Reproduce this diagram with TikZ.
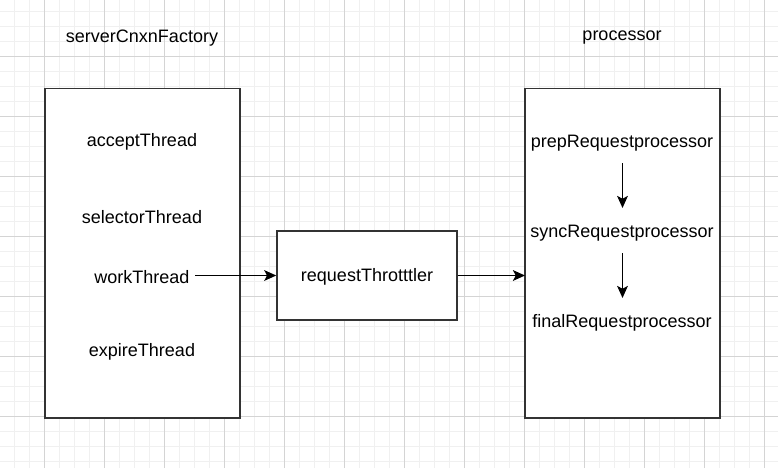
\documentclass[tikz,border=0pt]{standalone}
\usepackage{fontspec}
\setmainfont{Liberation Sans}
\usetikzlibrary{arrows.meta}
\definecolor{minorgrid}{HTML}{F0F0F0}
\definecolor{majorgrid}{HTML}{D4D4D4}
\definecolor{boxline}{HTML}{333333}
\tikzset{
  px/.style={x=0.75pt,y=-0.75pt},
  boxstyle/.style={draw=boxline,line width=1.1pt,fill=white},
  lbl/.style={font=\fontsize{13.5pt}{16pt}\selectfont,text=black,inner sep=0pt,anchor=center,yshift=-1.2pt},
  conn/.style={line width=1.2pt,draw=black,-{Stealth[length=9pt,width=8pt,inset=2pt]}},
}
\begin{document}
\begin{tikzpicture}[px]
\useasboundingbox (0,0) rectangle (778,468);
\fill[white] (0,0) rectangle (778,468);
% minor grid
\foreach \x in {0,15,...,780} \draw[minorgrid,line width=0.9pt] (\x-0.3,0) -- (\x-0.3,468);
\foreach \y in {11.3,26.3,...,470} \draw[minorgrid,line width=0.9pt] (0,\y) -- (778,\y);
% major grid
\foreach \x in {44.7,104.7,...,780} \draw[majorgrid,line width=0.8pt] (\x,0) -- (\x,468);
\foreach \y in {56.3,116.3,...,470} \draw[majorgrid,line width=0.8pt] (0,\y) -- (778,\y);

% boxes
\draw[boxstyle] (45,88.5) rectangle (240,418);
\draw[boxstyle] (525,88.5) rectangle (720,418);
\node[boxstyle,minimum width=135pt,minimum height=66.75pt,inner sep=0pt] (thr) at (367,275.5) {};
\node[lbl] (thrl) at (367,275.5) {requestThrotttler};

% titles
\node[lbl] (t1) at (142,36) {serverCnxnFactory};
\node[lbl] (t2) at (622,36) {processor};

% left texts
\node[lbl] (acc) at (142,140.5) {acceptThread};
\node[lbl] (sel) at (142,215.5) {selectorThread};
\node[lbl] (wrk) at (142,275.5) {workThread};
\node[lbl] (exp) at (142,350.5) {expireThread};

% right texts
\node[lbl] (prep) at (622,141.5) {prepRequestprocessor};
\node[lbl] (sync) at (622,231.5) {syncRequestprocessor};
\node[lbl] (fin) at (622,321) {finalRequestprocessor};

\coordinate (rbl) at (525,275.5);
\coordinate (wrkend) at (195,275.5);
\coordinate (a1s) at (622.5,163);
\coordinate (a1e) at (622.5,208);
\coordinate (a2s) at (622.5,253);
\coordinate (a2e) at (622.5,298);
\draw[conn] (wrkend) -- (thr.west);
\draw[conn] (thr.east) -- (rbl);
\draw[conn] (a1s) -- (a1e);
\draw[conn] (a2s) -- (a2e);
\end{tikzpicture}
\end{document}
